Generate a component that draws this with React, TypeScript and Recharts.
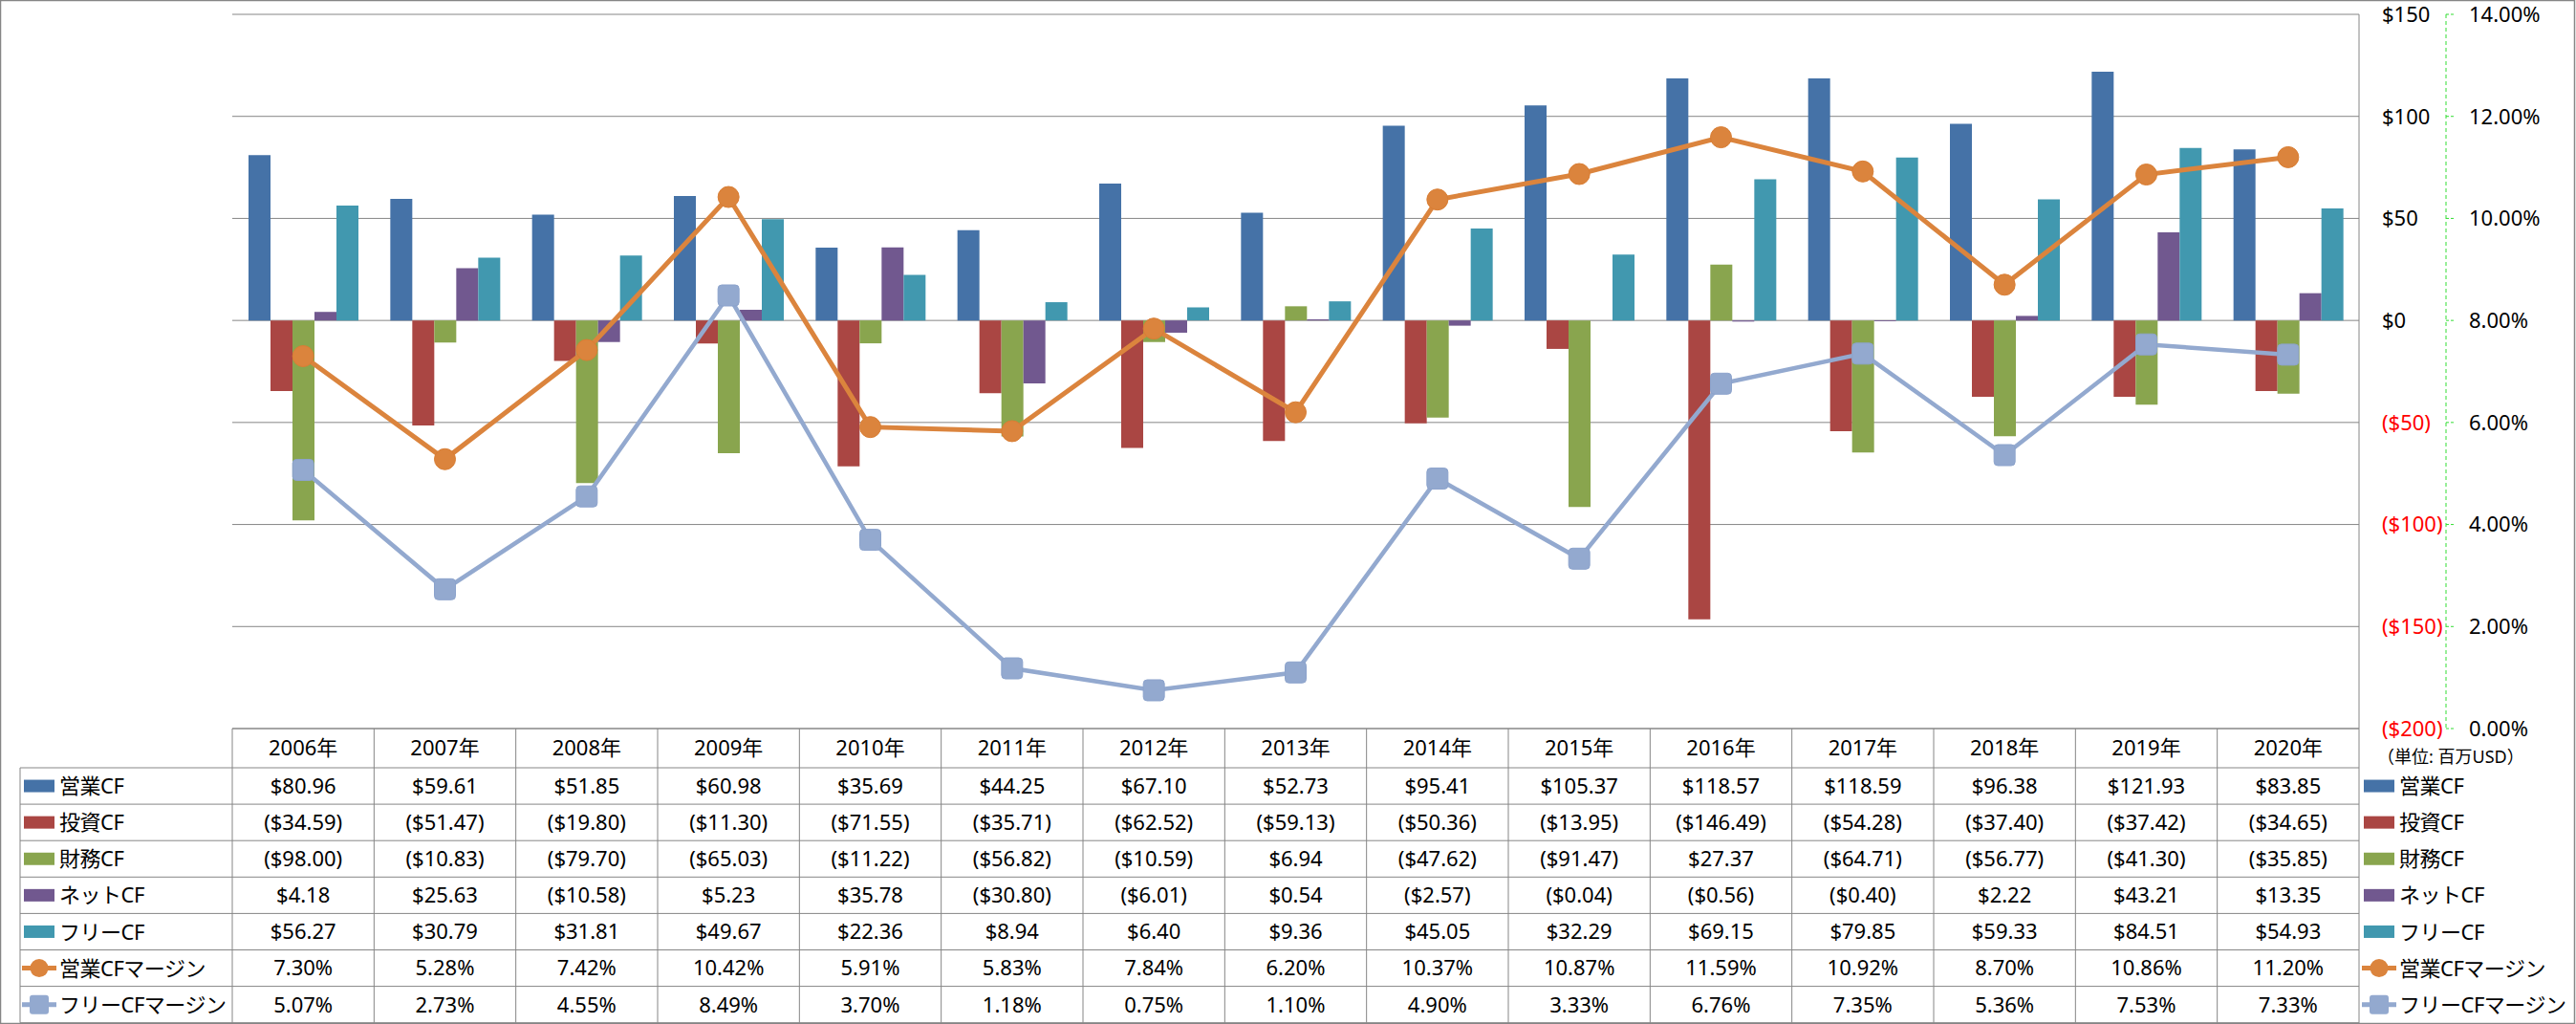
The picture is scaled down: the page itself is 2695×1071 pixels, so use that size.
import React from "react"
import { ComposedChart, Bar, Line, XAxis, YAxis, CartesianGrid } from "recharts"

const years = ["2006年", "2007年", "2008年", "2009年", "2010年", "2011年", "2012年", "2013年", "2014年", "2015年", "2016年", "2017年", "2018年", "2019年", "2020年"]
const operatingCF = [80.96, 59.61, 51.85, 60.98, 35.69, 44.25, 67.1, 52.73, 95.41, 105.37, 118.57, 118.59, 96.38, 121.93, 83.85]
const investingCF = [-34.59, -51.47, -19.8, -11.3, -71.55, -35.71, -62.52, -59.13, -50.36, -13.95, -146.49, -54.28, -37.4, -37.42, -34.65]
const financingCF = [-98.0, -10.83, -79.7, -65.03, -11.22, -56.82, -10.59, 6.94, -47.62, -91.47, 27.37, -64.71, -56.77, -41.3, -35.85]
const netCF = [4.18, 25.63, -10.58, 5.23, 35.78, -30.8, -6.01, 0.54, -2.57, -0.04, -0.56, -0.4, 2.22, 43.21, 13.35]
const freeCF = [56.27, 30.79, 31.81, 49.67, 22.36, 8.94, 6.4, 9.36, 45.05, 32.29, 69.15, 79.85, 59.33, 84.51, 54.93]
const operatingMargin = [7.3, 5.28, 7.42, 10.42, 5.91, 5.83, 7.84, 6.2, 10.37, 10.87, 11.59, 10.92, 8.7, 10.86, 11.2]
const freeMargin = [5.07, 2.73, 4.55, 8.49, 3.7, 1.18, 0.75, 1.1, 4.9, 3.33, 6.76, 7.35, 5.36, 7.53, 7.33]

const moneyTicks = [-200, -150, -100, -50, 0, 50, 100, 150]
const pctTicks = [0, 2, 4, 6, 8, 10, 12, 14]
const unitLabel = "（単位: 百万USD）"

const data = years.map((year, i) => ({
  year,
  op: operatingCF[i],
  inv: investingCF[i],
  fin: financingCF[i],
  net: netCF[i],
  free: freeCF[i],
  opM: operatingMargin[i],
  freeM: freeMargin[i],
}))

const W = 2695
const H = 1071
const PLOT_L = 243
const PLOT_R = 2468
const PLOT_T = 15
const PLOT_B = 762
const AXIS_W1 = 91
const AXIS_W2 = 110
const COL_W = (PLOT_R - PLOT_L) / years.length
const HEAD_B = 803
const ROW_H = 38.1
const GRID = "#868686"
const GREEN = "#33DD33"
const FONT = "'Noto Sans', 'Noto Sans CJK JP', sans-serif"

const money = (v: number) => (v < 0 ? `($${(-v).toFixed(2)})` : `$${v.toFixed(2)}`)
const pct = (v: number) => `${v.toFixed(2)}%`

const series = [
  { key: "op", name: "営業CF", color: "#4572A7", kind: "bar", values: operatingCF, fmt: money },
  { key: "inv", name: "投資CF", color: "#AA4643", kind: "bar", values: investingCF, fmt: money },
  { key: "fin", name: "財務CF", color: "#89A54E", kind: "bar", values: financingCF, fmt: money },
  { key: "net", name: "ネットCF", color: "#71588F", kind: "bar", values: netCF, fmt: money },
  { key: "free", name: "フリーCF", color: "#4198AF", kind: "bar", values: freeCF, fmt: money },
  { key: "opM", name: "営業CFマージン", color: "#DB843D", kind: "circle", values: operatingMargin, fmt: pct },
  { key: "freeM", name: "フリーCFマージン", color: "#93A9CF", kind: "square", values: freeMargin, fmt: pct },
]

function MoneyTick({ x, y, payload }: any) {
  const v = payload.value
  const label = v < 0 ? `($${-v})` : `$${v}`
  return (
    <text x={x} y={y} dy="0.36em" textAnchor="start" fill={v < 0 ? "#FF0000" : "#000"} fontSize={22} fontFamily={FONT}>
      {label}
    </text>
  )
}

function PctTick({ x, y, payload }: any) {
  return (
    <text x={x} y={y} dy="0.36em" textAnchor="start" fill="#000" fontSize={22} fontFamily={FONT}>
      {payload.value.toFixed(2)}%
    </text>
  )
}

function CircleDot({ cx, cy, index }: any) {
  return <circle key={`c${index}`} cx={cx} cy={cy} r={11} fill="#DB843D" stroke="#D97E34" strokeWidth={1} />
}

function SquareDot({ cx, cy, index }: any) {
  return <rect key={`s${index}`} x={cx - 11} y={cy - 11} width={22} height={22} rx={4} fill="#93A9CF" stroke="#8CA3CC" strokeWidth={1} />
}

function LegendKey({ s, x, y }: { s: any; x: number; y: number }) {
  if (s.kind === "bar") return <rect x={x} y={y - 6.5} width={32} height={13} fill={s.color} />
  return (
    <g>
      <line x1={x - 2} x2={x + 34} y1={y} y2={y} stroke={s.color} strokeWidth={5} />
      {s.kind === "circle" ? (
        <circle cx={x + 16} cy={y} r={9.5} fill={s.color} />
      ) : (
        <rect x={x + 6} y={y - 10} width={20} height={20} rx={3} fill={s.color} />
      )}
    </g>
  )
}

function Table() {
  const rowY = (i: number) => HEAD_B + ROW_H * i
  return (
    <svg width={W} height={H} style={{ position: "absolute", left: 0, top: 0, pointerEvents: "none" }}>
      <rect x={0.5} y={0.5} width={W - 2} height={H - 1} fill="none" stroke={GRID} strokeWidth={1.5} />
      {/* header + row lines */}
      <line x1={PLOT_L} x2={PLOT_R} y1={PLOT_B} y2={PLOT_B} stroke={GRID} />
      {series.map((_, i) => (
        <line key={`h${i}`} x1={21} x2={PLOT_R} y1={rowY(i)} y2={rowY(i)} stroke={GRID} />
      ))}
      <line x1={21} x2={PLOT_R} y1={rowY(series.length)} y2={rowY(series.length)} stroke={GRID} />
      <line x1={21} x2={21} y1={HEAD_B} y2={rowY(series.length)} stroke={GRID} />
      {years.map((_, i) => (
        <line key={`v${i}`} x1={PLOT_L + i * COL_W} x2={PLOT_L + i * COL_W} y1={PLOT_B} y2={rowY(series.length)} stroke={GRID} />
      ))}
      <line x1={PLOT_R} x2={PLOT_R} y1={PLOT_B} y2={H} stroke={GRID} />
      {/* years */}
      {years.map((yr, i) => (
        <text key={`y${i}`} x={PLOT_L + (i + 0.5) * COL_W} y={(PLOT_B + HEAD_B) / 2} dy="0.36em" textAnchor="middle" fontSize={22} fontFamily={FONT}>
          {yr}
        </text>
      ))}
      {/* cells */}
      {series.map((s, r) =>
        s.values.map((v, c) => (
          <text key={`t${r}-${c}`} x={PLOT_L + (c + 0.5) * COL_W} y={rowY(r) + ROW_H / 2} dy="0.36em" textAnchor="middle" fontSize={22} fontFamily={FONT}>
            {s.fmt(v)}
          </text>
        ))
      )}
      {/* left legend */}
      {series.map((s, r) => (
        <g key={`ll${r}`}>
          <LegendKey s={s} x={25} y={rowY(r) + ROW_H / 2} />
          <text x={62} y={rowY(r) + ROW_H / 2} dy="0.37em" fontSize={22} letterSpacing={-0.5} fontFamily={FONT}>
            {s.name}
          </text>
        </g>
      ))}
      {/* right legend */}
      <text x={2487} y={792} dy="0.36em" fontSize={18} fontFamily={FONT}>
        {unitLabel}
      </text>
      {series.map((s, r) => (
        <g key={`rl${r}`}>
          <LegendKey s={s} x={2473} y={rowY(r) + ROW_H / 2} />
          <text x={2510} y={rowY(r) + ROW_H / 2} dy="0.37em" fontSize={22} letterSpacing={-0.5} fontFamily={FONT}>
            {s.name}
          </text>
        </g>
      ))}
    </svg>
  )
}

export default function App() {
  return (
    <div style={{ position: "absolute", left: 0, top: 0, width: W, height: H, background: "#fff" }}>
      <ComposedChart
        width={W}
        height={H}
        data={data}
        margin={{ top: PLOT_T, left: PLOT_L, bottom: H - PLOT_B, right: W - PLOT_R - AXIS_W1 - AXIS_W2 }}
        barGap={0}
        barCategoryGap={17}
      >
        <XAxis dataKey="year" hide />
        <YAxis
          yAxisId="money"
          orientation="right"
          width={AXIS_W1}
          domain={[-200, 150]}
          ticks={moneyTicks}
          interval={0}
          axisLine={{ stroke: GRID }}
          tickLine={false}
          tickSize={0}
          tickMargin={24}
          tick={<MoneyTick />}
        />
        <YAxis
          yAxisId="pct"
          orientation="right"
          width={AXIS_W2}
          domain={[0, 14]}
          ticks={pctTicks}
          interval={0}
          axisLine={{ stroke: GREEN, strokeDasharray: "4 3" }}
          tickLine={{ stroke: GREEN, strokeDasharray: "3 2" }}
          tickSize={8}
          tickMargin={16}
          tick={<PctTick />}
        />
        <CartesianGrid yAxisId="money" vertical={false} stroke={GRID} />
        {series
          .filter((s) => s.kind === "bar")
          .map((s) => (
            <Bar key={s.key} yAxisId="money" dataKey={s.key} name={s.name} fill={s.color} isAnimationActive={false} />
          ))}
        <Line yAxisId="pct" type="linear" dataKey="opM" name="営業CFマージン" stroke="#DB843D" strokeWidth={5} dot={<CircleDot />} activeDot={false} isAnimationActive={false} />
        <Line yAxisId="pct" type="linear" dataKey="freeM" name="フリーCFマージン" stroke="#93A9CF" strokeWidth={4.5} dot={<SquareDot />} activeDot={false} isAnimationActive={false} />
      </ComposedChart>
      <Table />
    </div>
  )
}
